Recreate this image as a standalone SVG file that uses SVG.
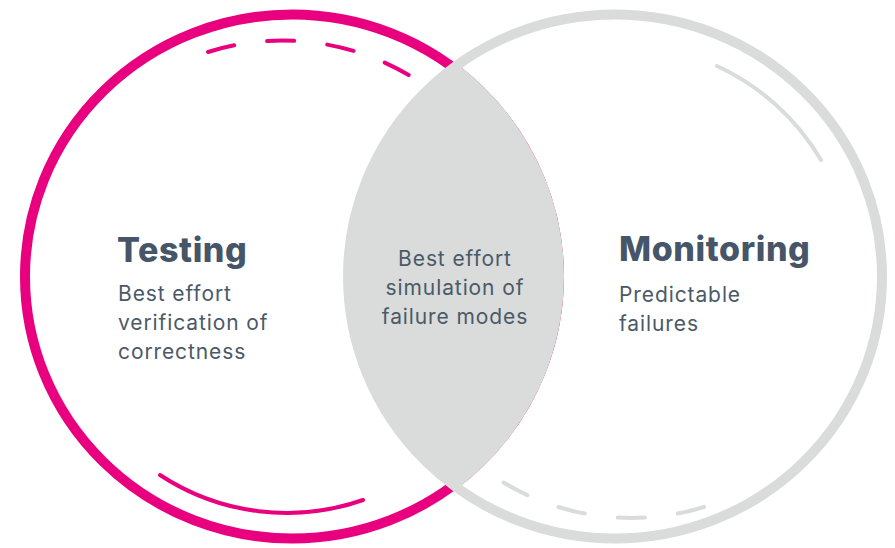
<svg xmlns="http://www.w3.org/2000/svg" width="895" height="548" viewBox="0 0 895 548">
  <style>
    .pink { fill: none; stroke: #E8007F; }
    .gray { fill: none; stroke: #D9DCDB; }
    .head { font-family: Inter, "Liberation Sans", sans-serif; font-weight: 800; font-size: 34px; fill: #465567; letter-spacing: 0.6px; }
    .body { font-family: Inter, "Liberation Sans", sans-serif; font-weight: 400; font-size: 21px; fill: #4B5967; letter-spacing: 0.9px; }
  </style>
  <defs>
    <clipPath id="leftClip">
      <ellipse cx="292" cy="276.5" rx="272" ry="267"/>
    </clipPath>
  </defs>
  <rect width="895" height="548" fill="#FFFFFF"/>

  <g id="testing">
    <ellipse class="pink" cx="292" cy="276.5" rx="267" ry="262" stroke-width="10"/>
    <path class="pink" d="M208,52 A248,248 0 0 1 412,77" stroke-width="4" stroke-linecap="round" stroke-dasharray="27 33.3"/>
    <path class="pink" d="M160,475 A231,231 0 0 0 363,500" stroke-width="4" stroke-linecap="round"/>
  </g>

  <g id="monitoring">
    <ellipse class="gray" cx="615" cy="276.5" rx="267" ry="262" stroke-width="10"/>
    <path class="gray" d="M717,66 A235,235 0 0 1 821,160" stroke-width="4" stroke-linecap="round"/>
    <path class="gray" d="M704,507 A248,248 0 0 1 501,481" stroke-width="4" stroke-linecap="round" stroke-dasharray="27 33.3"/>
  </g>

  <g id="overlap">
    <ellipse cx="615" cy="276.5" rx="270" ry="265" fill="#D9DCDB" clip-path="url(#leftClip)"/>
  </g>

  <g id="labels">
    <text class="head" x="117" y="262">Testing</text>
    <text class="body" x="118" y="301">Best effort</text>
    <text class="body" x="118" y="330">verification of</text>
    <text class="body" x="118" y="359">correctness</text>

    <text class="body" x="455" y="266" text-anchor="middle">Best effort</text>
    <text class="body" x="455" y="295" text-anchor="middle">simulation of</text>
    <text class="body" x="455" y="324" text-anchor="middle">failure modes</text>

    <text class="head" x="619" y="261">Monitoring</text>
    <text class="body" x="619" y="302">Predictable</text>
    <text class="body" x="619" y="331">failures</text>
  </g>
</svg>
